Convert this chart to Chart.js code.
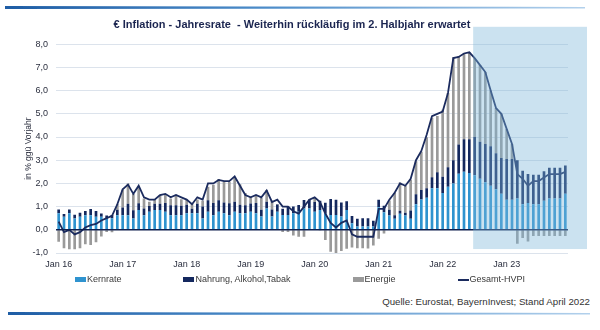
<!DOCTYPE html>
<html><head><meta charset="utf-8">
<script src="https://cdn.jsdelivr.net/npm/chart.js@4.4.1/dist/chart.umd.min.js"></script>
<style>
body{margin:0;background:#fff;width:600px;height:330px;overflow:hidden;position:relative;font-family:Arial,'Liberation Sans',sans-serif;}
#wrap{position:absolute;left:0;top:0;width:600px;height:275px;}
.rule{position:absolute;height:3px;}
#legend{position:absolute;top:274px;left:0;width:600px;display:flex;justify-content:center;gap:62px;font-size:9px;line-height:11px;color:#3a3a3a;}
.li{display:flex;align-items:center;}
.sw{width:11px;height:5px;margin-right:1px;}
.ln{width:11px;height:2px;margin-right:1px;}
#src{position:absolute;right:10px;top:296px;font-size:9.7px;line-height:12px;color:#333;white-space:nowrap;}
</style></head>
<body>
<div class="rule" style="left:5px;top:6px;width:580px;background:linear-gradient(to right,#1E5DA5,#4C8CC9 45%,#B3D1EC);clip-path:polygon(0 0,100% 30%,100% 80%,0 100%);"></div>
<div id="wrap"><canvas id="c" width="600" height="275"></canvas></div>
<div id="legend"></div>
<div id="src">Quelle: Eurostat, BayernInvest; Stand April 2022</div>
<div class="rule" style="left:8px;top:312px;width:582px;background:linear-gradient(to right,#1E5DA5,#4C8CC9 45%,#B3D1EC);clip-path:polygon(0 0,100% 30%,100% 80%,0 100%);"></div>
<script>
const monthNames = ['Jan','Feb','Mrz','Apr','Mai','Jun','Jul','Aug','Sep','Okt','Nov','Dez'];
const years = ['16','17','18','19','20','21','22','23'];
const categories = [];
years.forEach(y => monthNames.forEach(m => categories.push(m + ' ' + y)));
const tickLabels = ['Jan 16','Jan 17','Jan 18','Jan 19','Jan 20','Jan 21','Jan 22','Jan 23'];
const yTicks = [-1,0,1,2,3,4,5,6,7,8];

const kernrate = [
0.71,0.56,0.71,0.49,0.56,0.63,0.63,0.56,0.56,0.48,0.50,0.63,
0.63,0.63,0.49,0.85,0.63,0.78,0.85,0.85,0.78,0.63,0.63,0.63,
0.71,0.71,0.71,0.49,0.78,0.63,0.78,0.71,0.63,0.78,0.71,0.71,
0.78,0.71,0.57,0.92,0.57,0.78,0.64,0.64,0.71,0.78,0.92,0.92,
0.78,0.85,0.71,0.64,0.64,0.57,0.85,0.28,0.14,0.14,0.14,0.14,
0.97,0.76,0.62,0.48,0.69,0.62,0.48,1.10,1.31,1.38,1.79,1.79,
1.59,1.86,2.00,2.42,2.50,2.45,2.35,2.20,2.05,1.90,1.75,1.55,
1.30,1.30,1.35,1.10,1.15,1.10,1.10,1.25,1.35,1.35,1.35,1.55];
const nahrung = [
0.16,0.12,0.16,0.16,0.18,0.18,0.27,0.25,0.14,0.14,0.14,0.23,
0.33,0.49,0.35,0.29,0.29,0.25,0.27,0.27,0.37,0.43,0.43,0.41,
0.37,0.20,0.41,0.51,0.49,0.53,0.49,0.47,0.51,0.43,0.37,0.35,
0.35,0.44,0.29,0.29,0.31,0.31,0.27,0.36,0.29,0.29,0.36,0.38,
0.42,0.40,0.46,0.69,0.65,0.61,0.38,0.32,0.34,0.36,0.36,0.25,
0.33,0.28,0.24,0.15,0.13,0.11,0.35,0.43,0.41,0.41,0.48,0.69,
0.70,0.84,1.00,1.26,1.40,1.45,1.65,1.60,1.65,1.70,1.55,1.55,
1.75,1.75,1.65,1.45,1.25,1.27,1.27,1.27,1.32,1.32,1.32,1.22];
const energie = [
-0.52,-0.79,-0.84,-0.84,-0.79,-0.62,-0.65,-0.54,-0.29,-0.09,-0.11,0.25,
0.77,0.88,0.70,0.72,0.43,0.18,0.21,0.38,0.37,0.29,0.45,0.28,
0.21,0.20,0.19,0.25,0.59,0.78,0.92,0.89,0.92,1.04,0.88,0.53,
0.26,0.35,0.51,0.51,0.37,0.02,-0.10,-0.10,-0.25,-0.30,-0.30,0.02,
0.19,-0.03,-0.44,-0.95,-1.10,-0.91,-0.82,-0.76,-0.80,-0.80,-0.81,-0.68,
-0.39,-0.16,0.40,0.97,1.22,1.17,1.33,1.43,1.64,2.20,2.56,2.42,
2.88,3.20,4.44,3.80,3.70,3.75,3.40,3.30,3.10,2.40,1.95,1.90,
1.30,0.65,-0.60,-0.35,-0.50,-0.27,-0.27,-0.27,-0.27,-0.27,-0.27,-0.27];
const gesamtHVPI = [
0.35,-0.1,0.0,-0.2,-0.1,0.1,0.2,0.25,0.4,0.5,0.6,1.1,
1.75,1.95,1.55,1.9,1.4,1.3,1.3,1.5,1.55,1.4,1.5,1.4,
1.3,1.1,1.4,1.3,2.0,2.0,2.15,2.1,2.1,2.3,1.9,1.5,
1.4,1.5,1.4,1.7,1.2,1.3,1.0,1.0,0.8,0.7,1.0,1.3,
1.4,1.2,0.7,0.3,0.1,0.3,0.4,-0.2,-0.3,-0.3,-0.3,-0.3,
0.9,0.9,1.3,1.6,2.0,1.9,2.2,3.0,3.4,4.1,4.9,5.0,
5.1,5.9,7.4,7.45,7.6,7.65,7.4,7.1,6.8,6.0,5.25,5.0,
4.35,3.7,2.4,2.2,1.9,2.1,2.1,2.25,2.4,2.4,2.4,2.5];

const shadeStart = 'Jul 22';
const shadeTop = 8.75, shadeBottom = -0.83;

const colors = {kern:'#2F93CF', nahr:'#14285E', energ:'#9A9A9A', line:'#1B2B5E'};
const FONT = "Arial, 'Liberation Sans', sans-serif";

const overlay = {
  id:'overlay',
  afterDatasetsDraw(chart){
    const {ctx, chartArea:a, scales:{x,y}} = chart;
    const y0 = y.getPixelForValue(0);
    ctx.save();
    ctx.strokeStyle = '#0E1E4E'; ctx.lineWidth = 1.4;
    ctx.beginPath(); ctx.moveTo(a.left, y0); ctx.lineTo(a.right, y0); ctx.stroke();
    const i0 = categories.indexOf(shadeStart);
    const xl = x.getPixelForValue(i0) - 1.5;
    const top = y.getPixelForValue(shadeTop), bot = y.getPixelForValue(shadeBottom);
    ctx.fillStyle = 'rgba(125,183,218,0.4)';
    ctx.fillRect(xl, top, a.right + 19 - xl, bot - top);
    ctx.restore();
  }
};

const barDs = (label, data, color) => ({type:'bar', label, data, backgroundColor:color, borderWidth:0,
  barPercentage:0.5, categoryPercentage:1.0, stack:'s'});

new Chart(document.getElementById('c'), {
  data:{labels:categories, datasets:[
    barDs('Kernrate', kernrate, colors.kern),
    barDs('Nahrung, Alkohol,Tabak', nahrung, colors.nahr),
    barDs('Energie', energie, colors.energ),
    {type:'line', label:'Gesamt-HVPI', data:gesamtHVPI, borderColor:colors.line, borderWidth:1.8,
     pointRadius:0, tension:0, order:-1}
  ]},
  options:{
    responsive:false, animation:false,
    layout:{padding:{left:16,right:32,top:0,bottom:0}},
    plugins:{
      legend:{display:false}, tooltip:{enabled:false},
      title:{display:true, text:'€ Inflation - Jahresrate  - Weiterhin rückläufig im 2. Halbjahr erwartet',
        font:{family:FONT,size:11,weight:'bold'}, color:'#1B2550', padding:{top:18,bottom:13}}
    },
    scales:{
      x:{stacked:true, grid:{display:false, drawTicks:false}, border:{display:false},
         ticks:{autoSkip:false, maxRotation:0, padding:6, font:{family:FONT,size:9}, color:'#2b2f3f',
           callback:(v,i)=> tickLabels.includes(categories[i]) ? categories[i] : null},
         afterFit:s=>{s.height=22;}},
      y:{stacked:true, min:-1, max:8, border:{display:false},
         grid:{color:'#DCE3EC', drawTicks:false, lineWidth:1},
         ticks:{stepSize:1, padding:8, font:{family:FONT,size:9}, color:'#2b2f3f',
           callback:v=> yTicks.includes(v) ? v.toFixed(1).replace('.',',') : null},
         title:{display:true, text:'in % ggü Vorjahr', font:{family:FONT,size:8.5}, color:'#2b2f3f', padding:{top:8,bottom:0}},
         afterFit:s=>{s.width=40;}}
    }
  },
  plugins:[overlay]
});

const leg = document.getElementById('legend');
[['Kernrate',colors.kern,'sw'],['Nahrung, Alkohol,Tabak',colors.nahr,'sw'],['Energie',colors.energ,'sw'],['Gesamt-HVPI',colors.line,'ln']]
.forEach(([t,c,cls])=>{
  const d=document.createElement('div'); d.className='li';
  const s=document.createElement('span'); s.className=cls; s.style.background=c;
  const tx=document.createElement('span'); tx.textContent=t;
  d.appendChild(s); d.appendChild(tx); leg.appendChild(d);
});
</script>
</body></html>
